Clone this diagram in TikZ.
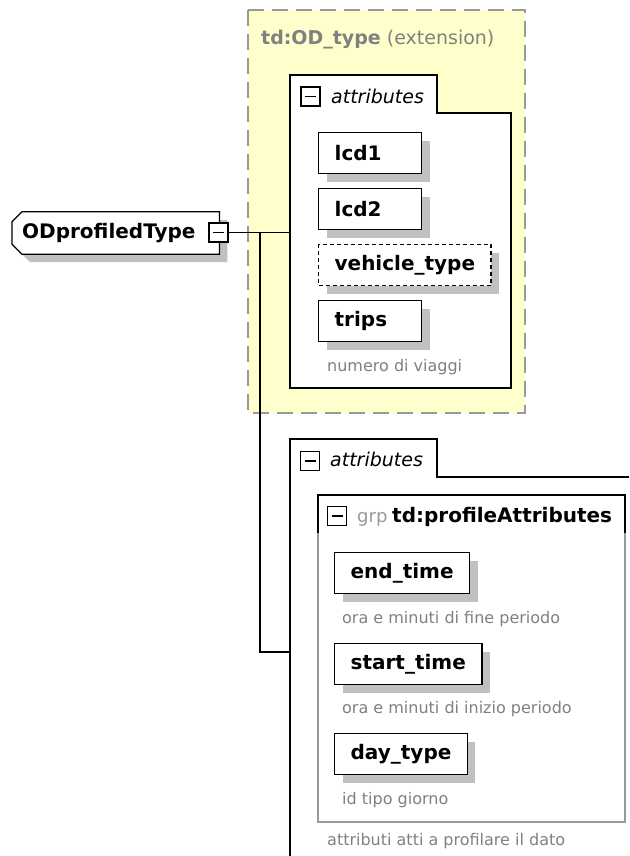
\documentclass[tikz,border=0pt]{standalone}
\usepackage{fontspec}
\setmainfont{DejaVu Sans}
\usetikzlibrary{shadows, backgrounds}
\definecolor{xsyellow}{RGB}{255,255,204}
\definecolor{xsgray}{RGB}{153,153,153}
\definecolor{xstext}{RGB}{128,128,128}
\definecolor{xsshadow}{RGB}{192,192,192}

\begin{document}
\begin{tikzpicture}[x=1pt, y=-1pt]
    \tikzstyle{elem} = [rectangle, draw, fill=white, line width=1.3pt, minimum height=41pt, inner xsep=16pt, inner ysep=0pt, anchor=north west, font=\fontsize{20}{24}\selectfont\bfseries, drop shadow={shadow xshift=8pt, shadow yshift=-8pt, fill=xsshadow, opacity=1}]
    \tikzstyle{shortelem} = [elem, text width=71pt, align=left]
    \tikzstyle{optelem} = [elem, dash pattern=on 4pt off 3pt]
    \tikzstyle{minusbox} = [rectangle, draw, fill=white, line width=1.2pt, minimum size=19pt, inner sep=0pt, path picture={\draw[line width=1.2pt] ([xshift=4pt]path picture bounding box.west) -- ([xshift=-4pt]path picture bounding box.east);}]
    \tikzstyle{notetext} = [anchor=base west, inner sep=0pt, text=xstext, font=\fontsize{16}{19}\selectfont]
    \tikzstyle{grouplabel} = [anchor=base west, inner sep=0pt, font=\fontsize{19}{22}\selectfont\itshape]
    \tikzstyle{wire} = [line width=1.3pt]

    \useasboundingbox (0,0) rectangle (629,856);

    % extension box
    \draw[xsgray, fill=xsyellow, line width=1.5pt, dash pattern=on 16pt off 8pt] (248,10) rectangle (525,413);
    \node[anchor=base west, inner sep=0pt, text=xstext, font=\fontsize{19}{22}\selectfont] (title) at (261,45) {\textbf{td:OD\_type} (extension)};

    % upper attributes
    \draw[fill=white, line width=1.3pt] (290,388) -- (290,75) -- (437,75) -- (437,113) -- (511,113) -- (511,388) -- cycle;
    \node[minusbox] (topminus) at (310.5,96.5) {};
    \node[grouplabel] (toplabel) at (331,103) {attributes};
    \node[shortelem] (lcd1) at (318,132) {lcd1};
    \node[shortelem] (lcd2) at (318,188) {lcd2};
    \node[optelem, minimum width=169pt] (vehicle) at (318,244) {vehicle\_type};
    \node[shortelem] (trips) at (318,300) {trips};
    \node[notetext] (tripsnote) at (327,371) {numero di viaggi};

    % complex type
    \node[anchor=west, minimum height=42pt, text width=187pt, inner xsep=10pt, align=left, font=\fontsize{20}{24}\selectfont\bfseries] (od) at (12,233) {ODprofiledType};
    \begin{pgfonlayer}{background}
        \draw[fill=white, line width=1.3pt, drop shadow={shadow xshift=8pt, shadow yshift=-8pt, fill=xsshadow, opacity=1}] ([xshift=10pt]od.north west) -- (od.north east) -- (od.south east) -- ([xshift=10pt]od.south west) -- ([yshift=10pt]od.south west) -- ([yshift=-10pt]od.north west) -- cycle;
    \end{pgfonlayer}
    \node[minusbox] (odminus) at (218.5,232.5) {};

    \coordinate (fork) at (260,232.5);
    \coordinate (topin) at (290,232.5);
    \coordinate (lowin) at (290,652);
    \draw[wire] (odminus.east) -- (topin);
    \draw[wire] (fork) |- (lowin);

    % lower attributes
    \draw[line width=1.3pt] (290,856) -- (290,439) -- (437,439) -- (437,477) -- (629,477);
    \node[minusbox] (lowminus) at (310,461) {};
    \node[grouplabel] (lowlabel) at (330,466) {attributes};

    % attribute group
    \draw[xsgray, line width=1.2pt] (318,495) rectangle (625,822);
    \draw[line width=1.2pt] (318,533) -- (318,495) -- (625,495) -- (625,533);
    \node[minusbox] (grpminus) at (337,516) {};
    \node[anchor=base west, inner sep=0pt, text=xsgray, font=\fontsize{18}{22}\selectfont] (grptag) at (357,522) {grp};
    \node[anchor=base west, inner sep=0pt, font=\fontsize{20}{24}\selectfont\bfseries] (grpname) at (392,522) {td:profileAttributes};
    \node[elem, minimum width=135pt] (endtime) at (334,552) {end\_time};
    \node[notetext] (endnote) at (342,623) {ora e minuti di fine periodo};
    \node[elem, minimum width=145pt] (starttime) at (334,643) {start\_time};
    \node[notetext] (startnote) at (342,713) {ora e minuti di inizio periodo};
    \node[elem, minimum width=129pt] (daytype) at (334,733) {day\_type};
    \node[notetext] (daynote) at (342,804) {id tipo giorno};
    \node[notetext] (grpnote) at (327,845) {attributi atti a profilare il dato};
\end{tikzpicture}
\end{document}
